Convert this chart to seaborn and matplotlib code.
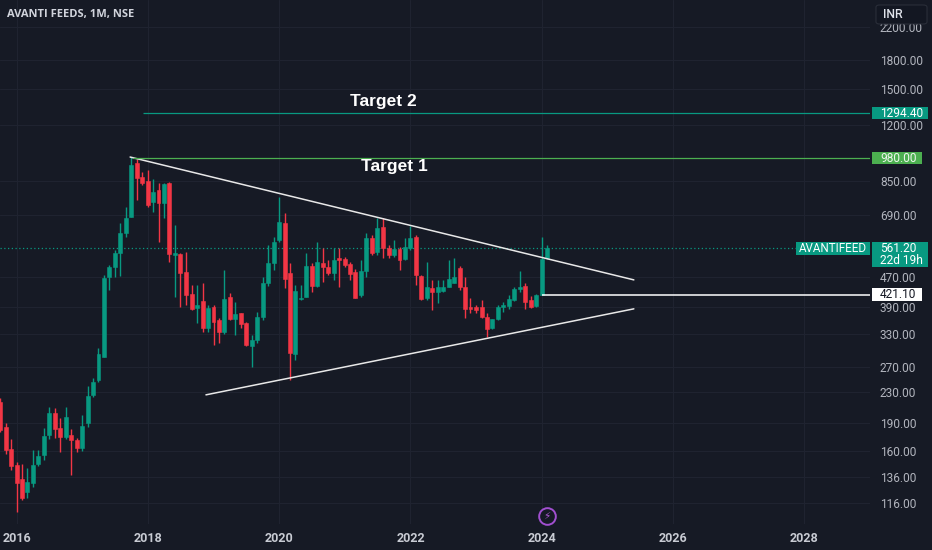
import numpy as np
import pandas as pd
import matplotlib
matplotlib.use('Agg')
import matplotlib.pyplot as plt
import matplotlib.dates as mdates
import matplotlib.transforms as mtransforms
from matplotlib.patches import Rectangle, FancyBboxPatch
from matplotlib.ticker import FixedLocator, FixedFormatter, NullLocator
import seaborn as sns

# %% data (monthly candles)

start_month = '2015-10-01'
opens = [217, 186, 162, 147, 135, 124, 131, 148, 156, 177,
         203, 184, 175, 177, 171, 163, 190, 226, 248, 287,
         470, 500, 545, 617, 681, 950, 874, 851, 748, 805,
         743, 841, 540, 542, 485, 424, 388, 405, 343, 391,
         360, 335, 415, 363, 376, 354, 306, 318, 367, 453,
         513, 591, 657, 482, 292, 410, 415, 503, 445, 513,
         500, 482, 529, 526, 509, 485, 421, 488, 598, 549,
         641, 563, 539, 559, 526, 563, 602, 473, 413, 438,
         429, 431, 442, 453, 497, 442, 391, 391, 391, 367,
         343, 363, 391, 393, 408, 436, 445, 408, 393, 421.1,
         529]
highs = [222, 190, 172, 150, 148, 144, 161, 161, 184, 210,
         209, 196, 210, 183, 174, 200, 239, 252, 303, 476,
         506, 556, 657, 725, 985, 975, 900, 911, 862, 840,
         841, 845, 650, 545, 549, 446, 446, 453, 396, 396,
         365, 491, 425, 403, 376, 356, 329, 379, 470, 573,
         602, 770, 697, 513, 446, 446, 545, 513, 584, 563,
         522, 563, 563, 532, 516, 494, 522, 617, 610, 677,
         677, 573, 591, 566, 598, 645, 610, 476, 516, 461,
         461, 461, 522, 529, 503, 470, 413, 396, 408, 376,
         363, 396, 403, 421, 441, 488, 453, 418, 424, 602,
         573]
lows = [180, 157, 142, 110, 118, 120, 128, 146, 151, 172,
        173, 159, 172, 138, 159, 160, 186, 224, 246, 286,
        434, 470, 473, 602, 681, 757, 832, 725, 703, 584,
        677, 516, 414, 391, 396, 383, 353, 335, 335, 309,
        313, 331, 360, 329, 343, 307, 270, 313, 360, 443,
        491, 584, 439, 249, 281, 408, 415, 428, 442, 456,
        476, 461, 442, 500, 461, 413, 415, 470, 539, 539,
        529, 529, 532, 491, 522, 556, 447, 408, 408, 383,
        400, 429, 442, 453, 434, 365, 376, 376, 365, 325,
        341, 360, 379, 386, 405, 429, 386, 388, 391, 421.1,
        526]
closes = [182, 161, 146, 131, 120, 132, 147, 155, 176, 203,
          183, 175, 197, 171, 163, 187, 225, 245, 292, 467,
          500, 545, 617, 677, 940, 867, 841, 734, 795, 743,
          836, 542, 544, 482, 421, 386, 396, 343, 388, 356,
          335, 410, 363, 374, 352, 309, 318, 367, 453, 513,
          584, 661, 464, 294, 431, 413, 503, 445, 516, 500,
          482, 522, 522, 506, 479, 413, 488, 598, 545, 637,
          563, 539, 559, 522, 566, 598, 476, 410, 441, 429,
          441, 442, 464, 470, 442, 386, 386, 383, 367, 341,
          363, 391, 396, 410, 436, 442, 403, 391, 421.1, 526,
          561.2]

# drawn lines
trend_up_dates = ['2017-09-24', '2025-05-28']
trend_up_prices = [987, 461.5]
trend_lo_dates = ['2018-11-20', '2025-05-28']
trend_lo_prices = [226.6, 385.8]

target_names = ['Target 2', 'Target 1']
target_prices = [1294.40, 980.00]
target_start = ['2017-12-05', '2017-10-08']
target_text_dates = ['2021-08-01', '2021-10-01']
target_text_prices = [1388, 928]

support_price = 421.10
support_start = '2024-01-01'
last_price = 561.20

y_ticks = [116, 136, 160, 190, 230, 270, 330, 390, 470, 690, 850, 1200, 1500, 1800, 2200]
x_years = [2016, 2018, 2020, 2022, 2024, 2026, 2028]

# %% style

bg = '#161a25'
grid_c = '#1f2330'
up_c = '#089981'
down_c = '#f23645'
txt_c = '#b2b5be'

sns.set_theme(style='dark', rc={'axes.facecolor': bg, 'figure.facecolor': bg,
                                'savefig.facecolor': bg, 'axes.edgecolor': bg,
                                'grid.color': grid_c})
plt.rcParams['font.family'] = ['Roboto', 'DejaVu Sans']

W, H = 932, 550
fig = plt.figure(figsize=(W / 100, H / 100), dpi=100)
ax = fig.add_axes([0, 26 / H, 870 / W, 524 / H])

# %% candles

dates = pd.date_range(start_month, periods=len(opens), freq='MS')
x = mdates.date2num(dates)
o, hi, lo, c = map(np.array, (opens, highs, lows, closes))
cols = np.where(c >= o, up_c, down_c)

ax.vlines(x, lo, hi, colors=cols, lw=1.0, zorder=3)
ax.bar(x, np.abs(c - o), bottom=np.minimum(o, c), width=22, color=cols,
       edgecolor=cols, lw=0.4, zorder=4)

ax.set_yscale('log')
ax.set_ylim(101.9, 2608)
ax.set_xlim(mdates.date2num(pd.Timestamp('2015-10-01')),
            mdates.date2num(pd.Timestamp('2029-01-01')))
xr = ax.get_xlim()[1]

# trend lines
for d, p in [(trend_up_dates, trend_up_prices), (trend_lo_dates, trend_lo_prices)]:
    sns.lineplot(x=mdates.date2num(pd.to_datetime(d)), y=p, ax=ax, color='#e8e8e8',
                 lw=1.1, estimator=None, sort=False, zorder=5)

# targets
for name, p, s, td, tp, col in zip(target_names, target_prices, target_start,
                                    target_text_dates, target_text_prices,
                                    [up_c, '#4caf50']):
    ax.hlines(p, mdates.date2num(pd.Timestamp(s)), xr, color=col, lw=0.9, zorder=5)
    ax.text(mdates.date2num(pd.Timestamp(td)), tp, name, color='white', fontsize=12.5,
            weight='bold', family=['Liberation Sans', 'DejaVu Sans'],
            ha='center', va='center', zorder=6)

ax.hlines(support_price, mdates.date2num(pd.Timestamp(support_start)), xr,
          color='white', lw=1.1, zorder=5)
ax.axhline(last_price, color=up_c, ls=(0, (1, 2)), lw=0.9, zorder=2)

# %% axes

ax.yaxis.tick_right()
ax.yaxis.set_major_locator(FixedLocator(y_ticks))
ax.yaxis.set_major_formatter(FixedFormatter([f'{t:.2f}' for t in y_ticks]))
ax.yaxis.set_minor_locator(NullLocator())
ax.tick_params(axis='y', length=0, pad=7.2, labelsize=8.6, labelcolor=txt_c)

xt = mdates.date2num(pd.to_datetime([f'{y}-01-01' for y in x_years]))
ax.set_xticks(xt)
ax.set_xticklabels([str(y) for y in x_years], fontsize=9, weight='bold', color='#c8cbd3')
ax.xaxis.set_minor_locator(NullLocator())
ax.tick_params(axis='x', length=0, pad=6)
ax.grid(True, color=grid_c, lw=0.8)
for sp in ax.spines.values():
    sp.set_visible(False)


# %% price tags on the right scale

def tag(price, text, fc, tc, x0, x1, h=12.5, top=6.25):
    yd = ax.transData.transform((xr, price))[1]
    fig.add_artist(Rectangle((x0 / W, (yd - (h - top)) / H), (x1 - x0) / W, h / H,
                             transform=fig.transFigure, fc=fc, ec='none', zorder=10))
    fig.text(880 / W, yd / H, text, color=tc, fontsize=8.6, ha='left', va='center', zorder=11)
    return yd


tag(target_prices[0], '1294.40', up_c, 'white', 871.7, 928.3)
tag(target_prices[1], '980.00', '#4caf50', '#eef5ee', 871.7, 922.3)
tag(support_price, '421.10', 'white', '#131722', 871.7, 921.7)
yd = tag(last_price, '561.20', up_c, 'white', 871.7, 928.3, h=25.4, top=6.7)
fig.text(880 / W, (yd - 12.3) / H, '22d 19h', color='white', fontsize=8.6,
         ha='left', va='center', zorder=11)
fig.add_artist(Rectangle((796 / W, (yd - 6.7) / H), 74 / W, 13.4 / H,
                         transform=fig.transFigure, fc=up_c, ec='none', zorder=10))
fig.text(833 / W, yd / H, 'AVANTIFEED', color='white', fontsize=8.4, ha='center',
         va='center', zorder=11)

# currency box
fig.add_artist(FancyBboxPatch((876 / W, (H - 24) / H), 51 / W, 19 / H,
                              boxstyle='round,pad=0,rounding_size=0.004',
                              transform=fig.transFigure, fc='#131722', ec='#2a2e39',
                              lw=0.8, zorder=10))
fig.text(883 / W, (H - 14.5) / H, 'INR', color='#e0e3eb', fontsize=8.8, weight='medium',
         ha='left', va='center', zorder=11)

# title
fig.text(7 / W, (H - 14) / H, 'AVANTI FEEDS, 1M, NSE', color='#d1d4dc', fontsize=8,
         weight='bold', family=['Open Sans', 'DejaVu Sans'], ha='left', va='center')

# event marker at the last bar
tr = mtransforms.blended_transform_factory(ax.transData, ax.transAxes)
ax.plot([x[-1]], [0.016], marker='o', ms=12, mfc=bg, mec='#a14fd0', mew=1.4,
        transform=tr, clip_on=False, zorder=7)
ax.text(x[-1], 0.016, '\u26a1', color='#b05ad8', fontsize=7.5, ha='center', va='center',
        family='DejaVu Sans', transform=tr, zorder=8)

fig.savefig('out.png', dpi=100)
